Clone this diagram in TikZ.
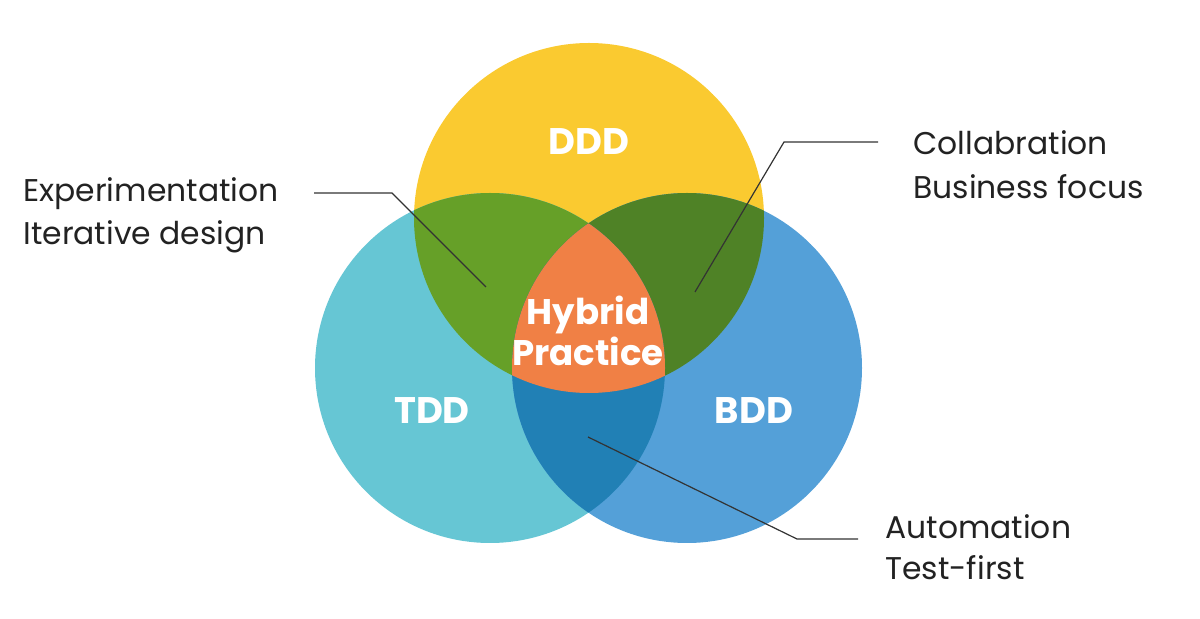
\documentclass[tikz,border=0pt]{standalone}
\usepackage{fontspec}
\setmainfont{Poppins}
\usetikzlibrary{positioning}
\definecolor{VennYellow}{HTML}{FACA30}
\definecolor{VennTeal}{HTML}{66C6D4}
\definecolor{VennBlue}{HTML}{54A0D8}
\definecolor{VennGreen}{HTML}{66A028}
\definecolor{VennOlive}{HTML}{4F8226}
\definecolor{VennNavy}{HTML}{2180B5}
\definecolor{VennOrange}{HTML}{F08045}
\definecolor{NoteInk}{HTML}{222222}
\definecolor{LeaderGrey}{HTML}{333333}
\def\vennrad{87.5pt}

\begin{document}
\begin{tikzpicture}[x=0.5pt,y=-0.5pt,
  setname/.style={text=white, inner sep=0pt, font=\fontsize{18.5}{20.5}\selectfont\bfseries},
  note/.style={anchor=base west, inner sep=0pt, text=NoteInk, font=\fontsize{15.7}{21.5}\selectfont},
  leader/.style={draw=LeaderGrey, line width=0.6pt}]
  \useasboundingbox (0,0) rectangle (1200,619);

  % circle centres
  \coordinate (ddd) at (589,218);
  \coordinate (tdd) at (490,368);
  \coordinate (bdd) at (687,368);

  % the three sets
  \fill[VennYellow] (ddd) circle[radius=\vennrad];
  \fill[VennTeal] (tdd) circle[radius=\vennrad];
  \fill[VennBlue] (bdd) circle[radius=\vennrad];

  % pairwise overlaps
  \begin{scope}
    \clip (ddd) circle[radius=\vennrad];
    \fill[VennGreen] (tdd) circle[radius=\vennrad];
    \fill[VennOlive] (bdd) circle[radius=\vennrad];
  \end{scope}
  \begin{scope}
    \clip (tdd) circle[radius=\vennrad];
    \fill[VennNavy] (bdd) circle[radius=\vennrad];
  \end{scope}

  % centre
  \begin{scope}
    \clip (ddd) circle[radius=\vennrad];
    \clip (tdd) circle[radius=\vennrad];
    \fill[VennOrange] (bdd) circle[radius=\vennrad];
  \end{scope}

  % set names
  \node[setname] (dddlabel) at (589,142) {DDD};
  \node[setname] (tddlabel) at (432,411) {TDD};
  \node[setname] (bddlabel) at (754,411) {BDD};
  \node[setname, font=\fontsize{17.8}{20.5}\selectfont\bfseries, align=center] (hybrid) at (588,331) {Hybrid\\Practice};

  % side notes
  \node[note] (exp1) at (23,202) {Experimentation};
  \node[note] (exp2) at (23,245) {Iterative design};
  \node[note] (col1) at (913,155) {Collabration};
  \node[note] (col2) at (913,199) {Business focus};
  \node[note] (aut1) at (885,539) {Automation};
  \node[note] (aut2) at (885,580) {Test-first};

  % leader lines
  \coordinate (expa) at (314,193);
  \coordinate (expb) at (392,193);
  \coordinate (expc) at (486,287);
  \coordinate (cola) at (878,142);
  \coordinate (colb) at (784,142);
  \coordinate (colc) at (695,292);
  \coordinate (auta) at (858,539);
  \coordinate (autb) at (797,539);
  \coordinate (autc) at (588,437);
  \draw[leader] (expa) -- (expb) -- (expc);
  \draw[leader] (cola) -- (colb) -- (colc);
  \draw[leader] (auta) -- (autb) -- (autc);
\end{tikzpicture}
\end{document}
